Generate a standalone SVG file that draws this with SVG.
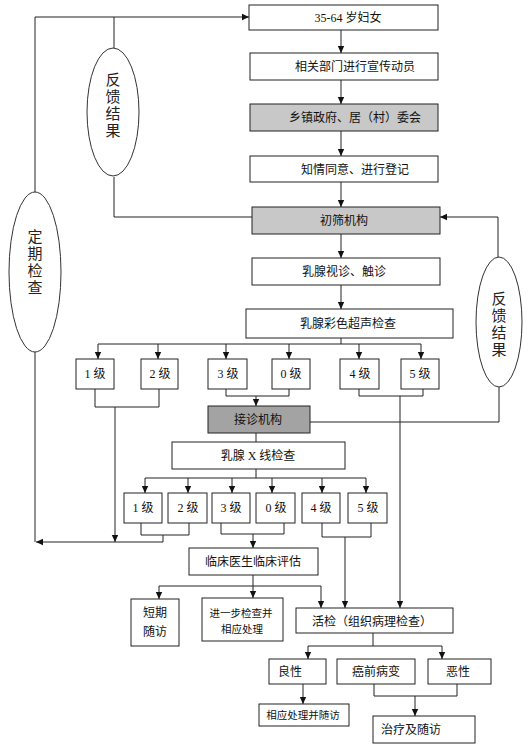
<svg xmlns="http://www.w3.org/2000/svg" width="529" height="748" viewBox="0 0 529 748">
<defs>
<marker id="ar" markerWidth="8" markerHeight="8" refX="7" refY="4" orient="auto" markerUnits="userSpaceOnUse"><path d="M0,0.8 L7,4 L0,7.2 z" fill="#111"/></marker>
<style>
.b{fill:#fff;stroke:#222;stroke-width:1}
.g{fill:#c8c8c8;stroke:#222;stroke-width:1}
.d{fill:#a3a3a3;stroke:#222;stroke-width:1}
.e{fill:#fff;stroke:#333;stroke-width:1}
.t{font-family:"Liberation Serif","Noto Sans CJK SC",sans-serif;font-size:12px;fill:#111;text-anchor:middle}
.s{font-size:10.5px}
.v{font-family:"Noto Sans CJK SC",sans-serif;font-size:15px;fill:#222;text-anchor:middle;writing-mode:vertical-rl;letter-spacing:2px}
.c{fill:none;stroke:#222;stroke-width:1}
.c .a{marker-end:url(#ar)}
</style>
</defs>
<rect width="529" height="748" fill="#fff"/>
<g id="connectors" class="c">
<path d="M35,192 V17 H249" class="a"/>
<path d="M114,48 V17"/>
<path d="M114,177 V217 H252"/>
<path d="M341,30 V53" class="a"/>
<path d="M341,80 V104" class="a"/>
<path d="M341,131 V156" class="a"/>
<path d="M341,182 V207" class="a"/>
<path d="M341,234 V258" class="a"/>
<path d="M341,285 V309" class="a"/>
<path d="M498,258 V217 H440" class="a"/>
<path d="M499,387 V422 H310"/>
<path d="M341,338 V344"/>
<path d="M98,344 H421"/>
<path d="M98,344 V359" class="a"/>
<path d="M158,344 V359" class="a"/>
<path d="M226,344 V359" class="a"/>
<path d="M289,344 V359" class="a"/>
<path d="M359,344 V359" class="a"/>
<path d="M421,344 V359" class="a"/>
<path d="M95,389 V407 H159 V389"/>
<path d="M115,407 V542" class="a"/>
<path d="M226,389 V396 H289 V389"/>
<path d="M256,396 V406" class="a"/>
<path d="M359,389 V396 H423 V389"/>
<path d="M400,396 V608" class="a"/>
<path d="M256,433 V442"/>
<path d="M256,469 V478"/>
<path d="M145,478 H366"/>
<path d="M145,478 V493" class="a"/>
<path d="M188,478 V493" class="a"/>
<path d="M232,478 V493" class="a"/>
<path d="M272,478 V493" class="a"/>
<path d="M322,478 V493" class="a"/>
<path d="M366,478 V493" class="a"/>
<path d="M141,523 V535 H189 V523"/>
<path d="M163,535 V542 H36" class="a"/>
<path d="M35,352 V542"/>
<path d="M221,523 V534 H284 V523"/>
<path d="M253,534 V548" class="a"/>
<path d="M322,523 V537 H371 V523"/>
<path d="M345,537 V608" class="a"/>
<path d="M253,575 V586"/>
<path d="M159,586 H321"/>
<path d="M159,586 V599" class="a"/>
<path d="M253,586 V598" class="a"/>
<path d="M321,586 V608" class="a"/>
<path d="M373,633 V646"/>
<path d="M308,646 H442"/>
<path d="M308,646 V659" class="a"/>
<path d="M442,646 V659" class="a"/>
<path d="M303,684 V704" class="a"/>
<path d="M374,684 V696 H457 V684"/>
<path d="M415,696 V716" class="a"/>
</g>
<g id="n_women"><rect class="b" x="249" y="5" width="189" height="25"/><text class="t" x="348" y="22">35-64 岁妇女</text></g>
<g id="n_publicity"><rect class="b" x="250" y="53" width="188" height="27"/><text class="t" x="355" y="71">相关部门进行宣传动员</text></g>
<g id="n_town"><rect class="g" x="250" y="104" width="188" height="27"/><text class="t" x="355" y="122">乡镇政府、居（村）委会</text></g>
<g id="n_consent"><rect class="b" x="250" y="156" width="188" height="26"/><text class="t" x="355" y="174">知情同意、进行登记</text></g>
<g id="n_screen"><rect class="g" x="252" y="207" width="188" height="27"/><text class="t" x="344" y="225">初筛机构</text></g>
<g id="n_palp"><rect class="b" x="252" y="258" width="188" height="27"/><text class="t" x="344" y="276">乳腺视诊、触诊</text></g>
<g id="n_us"><rect class="b" x="246" y="309" width="207" height="29"/><text class="t" x="348" y="328">乳腺彩色超声检查</text></g>
<g id="n_us1"><rect class="b" x="76" y="359" width="38" height="30"/><text class="t" x="95" y="378">1 级</text></g>
<g id="n_us2"><rect class="b" x="141" y="359" width="37" height="30"/><text class="t" x="160" y="378">2 级</text></g>
<g id="n_us3"><rect class="b" x="208" y="359" width="39" height="30"/><text class="t" x="228" y="378">3 级</text></g>
<g id="n_us0"><rect class="b" x="272" y="359" width="38" height="30"/><text class="t" x="291" y="378">0 级</text></g>
<g id="n_us4"><rect class="b" x="340" y="359" width="39" height="30"/><text class="t" x="360" y="378">4 级</text></g>
<g id="n_us5"><rect class="b" x="401" y="359" width="38" height="30"/><text class="t" x="420" y="378">5 级</text></g>
<g id="n_receive"><rect class="d" x="208" y="406" width="102" height="27"/><text class="t" x="258" y="424">接诊机构</text></g>
<g id="n_xray"><rect class="b" x="172" y="442" width="173" height="27"/><text class="t" x="258" y="460">乳腺 X 线检查</text></g>
<g id="n_x1"><rect class="b" x="124" y="493" width="38" height="30"/><text class="t" x="143" y="512">1 级</text></g>
<g id="n_x2"><rect class="b" x="168" y="493" width="39" height="30"/><text class="t" x="188" y="512">2 级</text></g>
<g id="n_x3"><rect class="b" x="212" y="493" width="38" height="30"/><text class="t" x="231" y="512">3 级</text></g>
<g id="n_x0"><rect class="b" x="256" y="493" width="39" height="30"/><text class="t" x="276" y="512">0 级</text></g>
<g id="n_x4"><rect class="b" x="302" y="493" width="38" height="30"/><text class="t" x="321" y="512">4 级</text></g>
<g id="n_x5"><rect class="b" x="348" y="493" width="39" height="30"/><text class="t" x="368" y="512">5 级</text></g>
<g id="n_clinic"><rect class="b" x="189" y="548" width="129" height="27"/><text class="t" x="253" y="566">临床医生临床评估</text></g>
<g id="n_short"><rect class="b" x="131" y="599" width="48" height="47"/><text class="t" x="155" y="617">短期</text><text class="t" x="155" y="636">随访</text></g>
<g id="n_further"><rect class="b" x="202" y="598" width="81" height="43"/><text class="t s" x="241" y="617">进一步检查并</text><text class="t s" x="242" y="633">相应处理</text></g>
<g id="n_biopsy"><rect class="b" x="296" y="608" width="157" height="25"/><text class="t" x="372" y="626">活检（组织病理检查）</text></g>
<g id="n_benign"><rect class="b" x="269" y="659" width="57" height="25"/><text class="t" x="290" y="676">良性</text></g>
<g id="n_precancer"><rect class="b" x="337" y="659" width="78" height="25"/><text class="t" x="376" y="676">癌前病变</text></g>
<g id="n_malignant"><rect class="b" x="428" y="659" width="63" height="25"/><text class="t" x="458" y="676">恶性</text></g>
<g id="n_handle"><rect class="b" x="259" y="704" width="90" height="22"/><text class="t s" x="303" y="719">相应处理并随访</text></g>
<g id="n_treat"><rect class="b" x="373" y="716" width="102" height="27"/><text class="t" x="411" y="734">治疗及随访</text></g>
<g id="n_fb_left"><ellipse class="e" cx="113" cy="112" rx="26" ry="64"/><text class="v" x="113" y="106">反馈结果</text></g>
<g id="n_regular"><ellipse class="e" cx="35" cy="272" rx="26" ry="80"/><text class="v" x="35" y="263">定期检查</text></g>
<g id="n_fb_right"><ellipse class="e" cx="499" cy="322" rx="23" ry="65"/><text class="v" x="499" y="325">反馈结果</text></g>
</svg>
